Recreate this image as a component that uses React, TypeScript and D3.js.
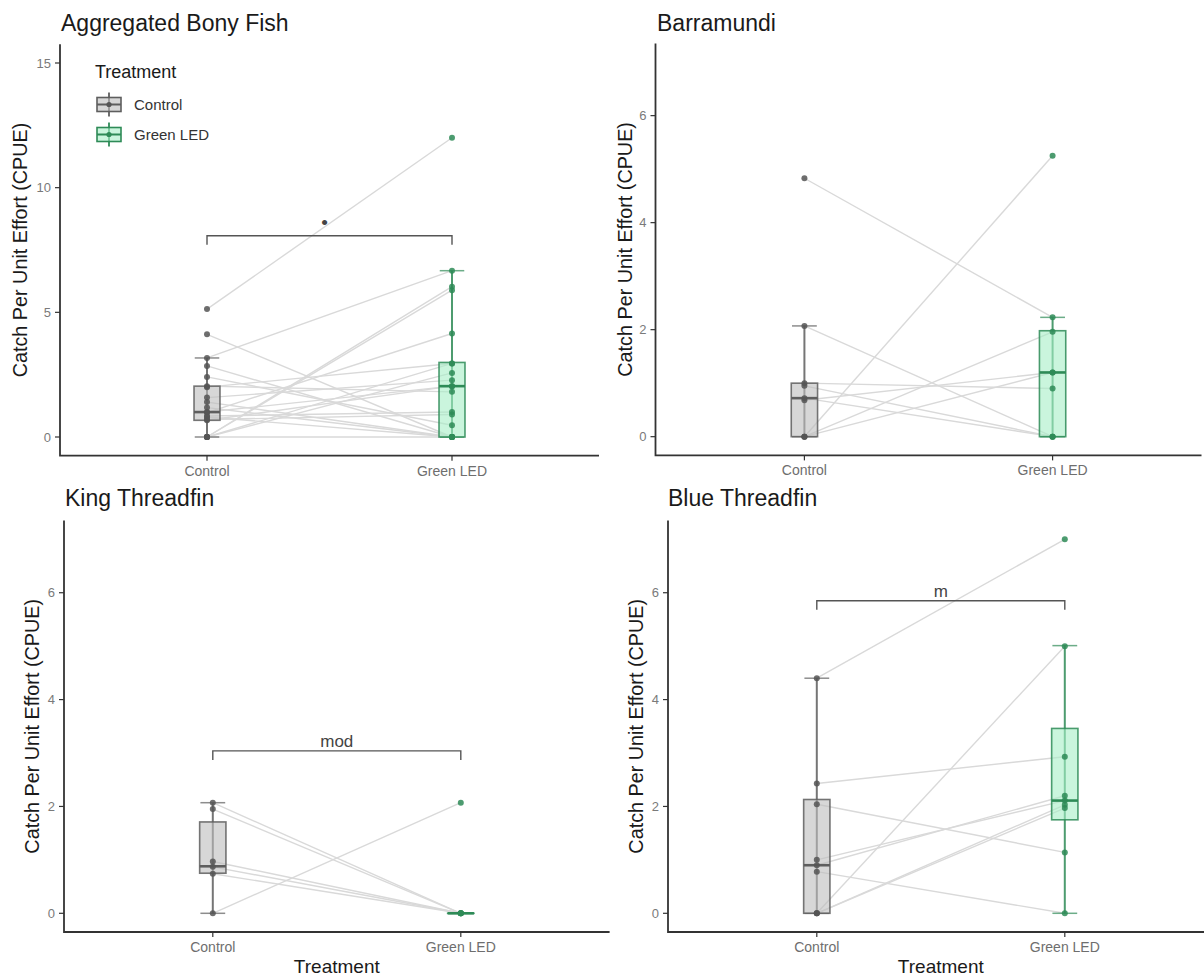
import * as d3 from "d3";

const TREATMENTS = ["Control", "Green LED"];
const TITLES = ["Aggregated Bony Fish", "Barramundi", "King Threadfin", "Blue Threadfin"];
const Y_MAX = [15, 7, 7, 7];
const Y_TICKS = [
  [0, 5, 10, 15],
  [0, 2, 4, 6],
  [0, 2, 4, 6],
  [0, 2, 4, 6],
];

// paired CPUE values: index i is the same set under Control and Green LED
const bonyControl = [5.13, 4.12, 3.17, 0, 0, 2.85, 0.98, 0, 2.41, 2.0, 0, 1.58, 0.67, 2.04, 1.18, 0.84, 1.0, 0.7, 1.4, 0.8, 0];
const bonyGreen = [12.0, 0, 6.67, 6.03, 5.89, 0, 4.15, 2.95, 0.47, 2.95, 2.57, 2.28, 2.04, 1.81, 0, 1.0, 2.04, 0.9, 0, 0, 0];
const barraControl = [4.83, 0, 2.07, 1.0, 0.95, 0.72, 0, 0, 0.68];
const barraGreen = [2.23, 5.25, 0, 0.9, 0, 0, 1.96, 1.2, 1.2];
const kingControl = [0, 2.07, 1.95, 0.97, 0.87, 0.74];
const kingGreen = [2.07, 0, 0, 0, 0, 0];
const blueControl = [4.4, 2.43, 2.04, 0.9, 0.78, 0, 0, 0, 1.0];
const blueGreen = [7.0, 2.93, 1.14, 2.2, 0, 5.0, 2.03, 1.97, 2.11];

// box summaries: [lower whisker, q1, median, q3, upper whisker]
const bonyBoxes = [[0, 0.67, 1.0, 2.04, 3.17], [0, 0, 2.04, 2.99, 6.67]];
const barraBoxes = [[0, 0, 0.72, 1.0, 2.07], [0, 0, 1.2, 1.98, 2.23]];
const kingBoxes = [[0, 0.75, 0.88, 1.71, 2.07], [0, 0, 0, 0, 0]];
const blueBoxes = [[0, 0, 0.9, 2.13, 4.4], [0, 1.75, 2.11, 3.46, 5.01]];

// significance brackets
const SIG_Y = [8.07, null, 3.04, 5.85];
const SIG_LABEL = ["•", "", "mod", "m"];

const SERIES = [
  [bonyControl, bonyGreen],
  [barraControl, barraGreen],
  [kingControl, kingGreen],
  [blueControl, blueGreen],
];
const BOXES = [bonyBoxes, barraBoxes, kingBoxes, blueBoxes];

const FONT = "'Liberation Sans', Arial, sans-serif";
const STROKE = ["#5e5e5e", "#2e8b57"];
const FILL = ["#bdbdbd", "#a6efc6"];
const POINT = ["#555555", "#2e8b57"];

const LAYOUT = [
  { x0: 60, x1: 599, top: 44.3, bottom: 455.7, titleX: 61, titleY: 31, yTitleX: 20, xTitle: false },
  { x0: 655.5, x1: 1201.5, top: 43.4, bottom: 455.4, titleX: 657, titleY: 31, yTitleX: 625, xTitle: false },
  { x0: 64, x1: 609.6, top: 520.6, bottom: 932, titleX: 65, titleY: 506, yTitleX: 32, xTitle: true },
  { x0: 668, x1: 1213.6, top: 520.6, bottom: 932, titleX: 668, titleY: 506, yTitleX: 636, xTitle: true },
];

const BOX_HALF = 0.053;
const CAP_HALF = 0.05;

function Panel({ idx }: { idx: number }) {
  const L = LAYOUT[idx];
  const ymax = Y_MAX[idx];
  const y = d3.scaleLinear().domain([-0.05 * ymax, 1.05 * ymax]).range([L.bottom, L.top]);
  const x = d3.scaleLinear().domain([0.4, 2.6]).range([L.x0, L.x1]);
  const [ctrl, green] = SERIES[idx];
  const line = d3.line();
  const sig = SIG_Y[idx];
  const label = SIG_LABEL[idx];

  return (
    <g>
      <text x={L.titleX} y={L.titleY} fontSize={23} fill="#1a1a1a" fontFamily={FONT}>
        {TITLES[idx]}
      </text>

      {/* pair lines */}
      {ctrl.map((c, i) => (
        <path
          key={"l" + i}
          d={line([[x(1), y(c)], [x(2), y(green[i])]]) || ""}
          stroke="#d9d9d9"
          strokeWidth={1.4}
          fill="none"
        />
      ))}

      {/* boxes */}
      {BOXES[idx].map((b, k) => {
        const cx = x(k + 1);
        const [lo, q1, med, q3, hi] = b;
        return (
          <g key={"b" + k}>
            <line x1={cx} x2={cx} y1={y(lo)} y2={y(hi)} stroke={STROKE[k]} strokeWidth={2} opacity={0.85} />
            <line x1={x(k + 1 - CAP_HALF)} x2={x(k + 1 + CAP_HALF)} y1={y(hi)} y2={y(hi)} stroke={STROKE[k]} strokeWidth={1.5} opacity={0.7} />
            <line x1={x(k + 1 - CAP_HALF)} x2={x(k + 1 + CAP_HALF)} y1={y(lo)} y2={y(lo)} stroke={STROKE[k]} strokeWidth={1.5} opacity={0.7} />
            <rect
              x={x(k + 1 - BOX_HALF)}
              width={x(k + 1 + BOX_HALF) - x(k + 1 - BOX_HALF)}
              y={y(q3)}
              height={Math.max(0.01, y(q1) - y(q3))}
              fill={FILL[k]}
              fillOpacity={0.6}
              stroke={STROKE[k]}
              strokeWidth={1.6}
              strokeOpacity={0.85}
            />
            <line x1={x(k + 1 - BOX_HALF)} x2={x(k + 1 + BOX_HALF)} y1={y(med)} y2={y(med)} stroke={STROKE[k]} strokeWidth={2.6} />
          </g>
        );
      })}

      {/* points */}
      {[ctrl, green].map((vals, k) =>
        vals.map((v, i) => (
          <circle key={"p" + k + "-" + i} cx={x(k + 1)} cy={y(v)} r={3} fill={POINT[k]} fillOpacity={0.85} />
        ))
      )}

      {/* significance bracket */}
      {sig !== null && (
        <g>
          <path
            d={`M${x(1)},${y(sig) + 9}V${y(sig)}H${x(2)}V${y(sig) + 9}`}
            fill="none"
            stroke="#555"
            strokeWidth={1.4}
          />
          <text
            x={(x(1) + x(2)) / 2 - (label === "•" ? 5 : 0)}
            y={y(sig) - (label === "•" ? 7 : 4)}
            textAnchor="middle"
            fontSize={label === "•" ? 19 : 17}
            fill="#444"
            fontFamily={FONT}
          >
            {label}
          </text>
        </g>
      )}

      {/* axes */}
      <path d={`M${L.x0},${L.top}V${L.bottom}H${L.x1}`} fill="none" stroke="#333" strokeWidth={1.8} />
      {Y_TICKS[idx].map((t) => (
        <g key={"yt" + t}>
          <line x1={L.x0 - 5} x2={L.x0} y1={y(t)} y2={y(t)} stroke="#333" strokeWidth={1.2} />
          <text
            x={L.x0 - 9}
            y={y(t)}
            dy="0.35em"
            textAnchor="end"
            fontSize={13}
            fill="#7a7a7a"
            fontFamily={FONT}
          >
            {t}
          </text>
        </g>
      ))}
      {TREATMENTS.map((name, k) => (
        <g key={"xt" + k}>
          <line x1={x(k + 1)} x2={x(k + 1)} y1={L.bottom} y2={L.bottom + 5} stroke="#333" strokeWidth={1.2} />
          <text
            x={x(k + 1)}
            y={L.bottom + 20}
            textAnchor="middle"
            fontSize={14}
            fill="#6e6e6e"
            fontFamily={FONT}
          >
            {name}
          </text>
        </g>
      ))}
      <text
        transform={`translate(${L.yTitleX},${(L.top + L.bottom) / 2}) rotate(-90)`}
        textAnchor="middle"
        dy="0.35em"
        fontSize={19.8}
        fill="#1a1a1a"
        fontFamily={FONT}
      >
        Catch Per Unit Effort (CPUE)
      </text>
      {L.xTitle && (
        <text x={(L.x0 + L.x1) / 2} y={973} textAnchor="middle" fontSize={19} fill="#1a1a1a" fontFamily={FONT}>
          Treatment
        </text>
      )}
    </g>
  );
}

function Legend() {
  const keyX = 109;
  const keyY = [104.5, 134.5];
  return (
    <g fontFamily={FONT}>
      <text x={95} y={78} fontSize={18} fill="#1a1a1a">
        Treatment
      </text>
      {TREATMENTS.map((name, k) => (
        <g key={name}>
          <line x1={keyX} x2={keyX} y1={keyY[k] - 12} y2={keyY[k] + 12} stroke={STROKE[k]} strokeWidth={1.8} />
          <rect
            x={keyX - 12}
            y={keyY[k] - 7}
            width={24}
            height={14}
            fill={FILL[k]}
            fillOpacity={0.6}
            stroke={STROKE[k]}
            strokeWidth={1.6}
          />
          <line x1={keyX - 12} x2={keyX + 12} y1={keyY[k]} y2={keyY[k]} stroke={STROKE[k]} strokeWidth={2} />
          <circle cx={keyX} cy={keyY[k]} r={2.6} fill={POINT[k]} />
          <text x={134} y={keyY[k] + 5.5} fontSize={15} fill="#333">
            {name}
          </text>
        </g>
      ))}
    </g>
  );
}

export default function App() {
  return (
    <svg
      width={1204}
      height={979}
      style={{ position: "absolute", left: 0, top: 0, background: "#fff" }}
    >
      <rect width={1204} height={979} fill="#fff" />
      {[0, 1, 2, 3].map((i) => (
        <Panel key={i} idx={i} />
      ))}
      <Legend />
    </svg>
  );
}
